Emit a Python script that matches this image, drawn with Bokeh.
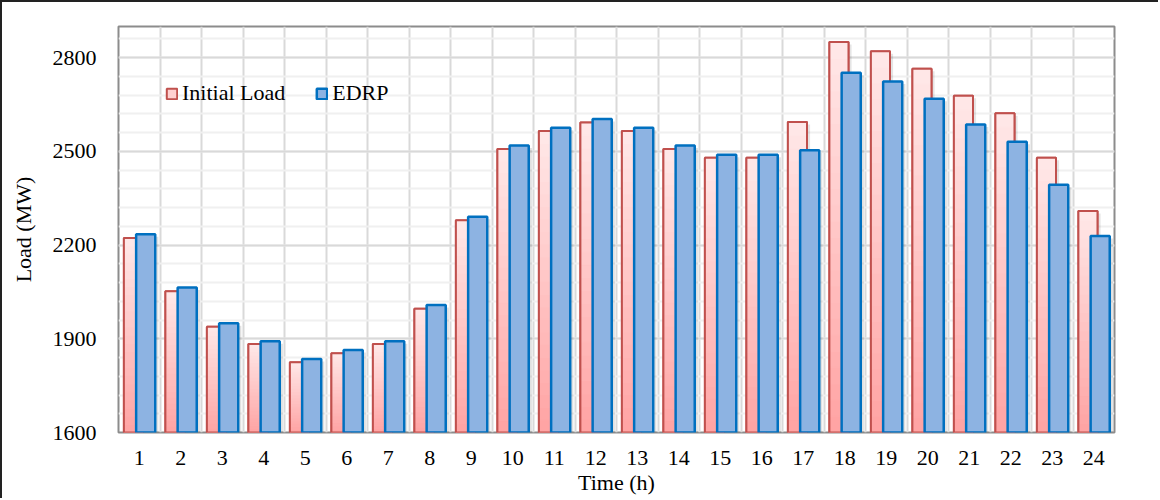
from bokeh.plotting import figure
from bokeh.models import FixedTicker, Legend, LegendItem, Range1d
from bokeh.embed import file_html
from bokeh.resources import INLINE

hours = list(range(1, 25))
initial_load = [2223, 2052, 1939, 1883, 1825, 1854, 1883, 1996, 2280, 2508, 2565, 2593,
                2565, 2508, 2480, 2480, 2594, 2850, 2821, 2765, 2678, 2622, 2480, 2309]
edrp = [2235, 2064, 1950, 1892, 1835, 1864, 1892, 2008, 2291, 2519, 2576, 2604,
        2576, 2519, 2489, 2489, 2504, 2752, 2724, 2669, 2586, 2531, 2393, 2229]
y_major = [1600, 1900, 2200, 2500, 2800]
y_minor = [1600 + 60 * k for k in range(22)]
y_lo, y_hi = 1600, 2900

FONT = "Liberation Serif"
BAR_W = 0.46
OFF_RED = -0.14
OFF_BLUE = 0.155

p = figure(frame_width=996, frame_height=406, output_backend="svg", toolbar_location=None,
           x_range=Range1d(0.5, 24.5), y_range=Range1d(y_lo, y_hi),
           min_border_left=116, min_border_right=44, min_border_top=24,
           min_border_bottom=66)
p.styles = {"border-left": "2px solid #222", "border-top": "2px solid #222"}
p.outline_line_color = "#8c8c8c"
p.outline_line_width = 2
p.background_fill_color = "white"

# grids
p.xgrid.ticker = FixedTicker(ticks=[h + 0.5 for h in hours[:-1]])
p.xgrid.grid_line_color = "#d9d9d9"
p.xgrid.grid_line_width = 2
p.yaxis.ticker = FixedTicker(ticks=y_major, minor_ticks=y_minor)
p.ygrid.grid_line_color = "#d9d9d9"
p.ygrid.grid_line_width = 2
p.ygrid.minor_grid_line_color = "#f0f0f0"
p.ygrid.minor_grid_line_width = 2

xr = [h + OFF_RED for h in hours]
xb = [h + OFF_BLUE for h in hours]

# shadows
p.vbar(x=[v + 0.06 for v in xr], top=[t - 8 for t in initial_load], bottom=y_lo,
       width=BAR_W + 0.03, fill_color="black", fill_alpha=0.10, line_color=None)
p.vbar(x=[v + 0.06 for v in xb], top=[t - 8 for t in edrp], bottom=y_lo,
       width=BAR_W + 0.03, fill_color="black", fill_alpha=0.12, line_color=None)

# red bars (base, used for legend)
r_red = p.vbar(x=xr, top=initial_load, bottom=y_lo, width=BAR_W, fill_color="#ffd0d0",
               line_color="#c0504d", line_width=2)

# red gradient overlay
def lerp(c1, c2, f):
    return "#%02x%02x%02x" % tuple(int(round(a + (b - a) * f)) for a, b in zip(c1, c2))

top_c = (255, 232, 232)
bot_c = (255, 163, 163)
N = 24
gx, gb, gt, gc = [], [], [], []
for x, t in zip(xr, initial_load):
    for k in range(N):
        gx.append(x)
        gb.append(y_lo + (t - y_lo) * k / N)
        gt.append(y_lo + (t - y_lo) * (k + 1) / N)
        gc.append(lerp(bot_c, top_c, (k + 0.5) / N))
p.vbar(x=gx, bottom=gb, top=gt, width=BAR_W, fill_color=gc, line_color=gc, line_width=1)
p.vbar(x=xr, top=initial_load, bottom=y_lo, width=BAR_W, fill_color=None,
       line_color="#c0504d", line_width=2)

# blue bars
r_blue = p.vbar(x=xb, top=edrp, bottom=y_lo, width=BAR_W, fill_color="#8db3e2",
                line_color="#0070c0", line_width=2.5)

legend = Legend(items=[LegendItem(label="Initial Load", renderers=[r_red]),
                       LegendItem(label="EDRP", renderers=[r_blue])],
                location=(47, 326), orientation="horizontal",
                background_fill_alpha=0, border_line_color=None,
                label_text_font=FONT, label_text_font_size="22px",
                label_text_color="black",
                glyph_width=13, glyph_height=13, label_standoff=4, spacing=30,
                padding=0, margin=0, label_height=13)
p.add_layout(legend)

# axes
p.xaxis.ticker = FixedTicker(ticks=hours)
for ax in (p.xaxis[0], p.yaxis[0]):
    ax.axis_line_color = None
    ax.major_tick_line_color = None
    ax.minor_tick_line_color = None
    ax.major_label_text_font = FONT
    ax.major_label_text_font_size = "22px"
    ax.major_label_text_color = "black"
    ax.axis_label_text_font = FONT
    ax.axis_label_text_font_size = "22px"
    ax.axis_label_text_font_style = "normal"
    ax.axis_label_text_color = "black"
p.xaxis.axis_label = "Time (h)"
p.yaxis.axis_label = "Load (MW)"
p.yaxis.major_label_standoff = 16
p.xaxis.major_label_standoff = 12
p.xaxis.axis_label_standoff = 2
p.yaxis.axis_label_standoff = 14

open("out.html", "w").write(file_html(p, INLINE))
